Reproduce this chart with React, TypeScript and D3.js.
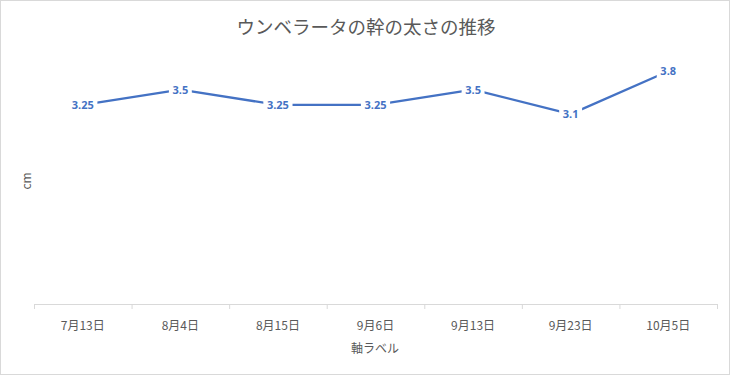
import React from "react";
import * as d3 from "d3";

const categories = ["7月13日", "8月4日", "8月15日", "9月6日", "9月13日", "9月23日", "10月5日"];
const values = [3.25, 3.5, 3.25, 3.25, 3.5, 3.1, 3.8];
const valueLabels = ["3.25", "3.5", "3.25", "3.25", "3.5", "3.1", "3.8"];
const title = "ウンベラータの幹の太さの推移";
const yTitle = "cm";
const xTitle = "軸ラベル";

const W = 732;
const H = 376;
const plot = { left: 34, right: 717, top: 59, bottom: 304 };
const JP = "'Noto Sans CJK JP', 'Noto Sans', sans-serif";
const NUM = "'Open Sans', 'Noto Sans', sans-serif";
const BLUE = "#4472C4";
const GRAY = "#595959";

export default function App() {
  const x = d3.scaleBand<string>().domain(categories).range([plot.left, plot.right]).padding(0);
  const y = d3.scaleLinear().domain([0, 4]).range([plot.bottom, plot.top]);
  const cx = (i: number) => (x(categories[i]) as number) + x.bandwidth() / 2;
  const line = d3
    .line<number>()
    .x((_, i) => cx(i))
    .y((d) => y(d));
  const ticks = [...categories.map((c) => x(c) as number), plot.right];

  return (
    <svg
      width={W}
      height={H}
      style={{ position: "fixed", left: 0, top: 0, background: "#fff" }}
    >
      <rect x={0.5} y={0.5} width={W - 3} height={H - 2} fill="#fff" stroke="#d9d9d9" />
      <text x={366} y={34} textAnchor="middle" fontFamily={JP} fontSize={18.5} fill={GRAY}>
        {title}
      </text>
      <line x1={plot.left} x2={plot.right} y1={plot.bottom + 0.5} y2={plot.bottom + 0.5} stroke="#d9d9d9" />
      {ticks.map((t, i) => (
        <line key={i} x1={t + 0.5} x2={t + 0.5} y1={plot.bottom} y2={plot.bottom + 5} stroke="#d9d9d9" />
      ))}
      {categories.map((c, i) => (
        <text key={c} x={cx(i)} y={330} textAnchor="middle" fontFamily={JP} fontSize={12} fill={GRAY}>
          {c}
        </text>
      ))}
      <text x={375} y={353} textAnchor="middle" fontFamily={JP} fontSize={12} fill={GRAY}>
        {xTitle}
      </text>
      <text
        transform={`translate(31,181) rotate(-90)`}
        textAnchor="middle"
        fontFamily={JP}
        fontSize={12}
        fill={GRAY}
      >
        {yTitle}
      </text>
      <path d={line(values) || ""} fill="none" stroke={BLUE} strokeWidth={2.25} strokeLinejoin="round" />
      {values.map((v, i) => {
        const w = valueLabels[i].length * 6.3 + 4;
        return (
          <g key={i}>
            <rect x={cx(i) - w / 2} y={y(v) - 8} width={w} height={15} fill="#fff" />
            <text
              x={cx(i)}
              y={y(v) + 4}
              textAnchor="middle"
              fontFamily={NUM}
              fontWeight={700}
              fontSize={11}
              fill={BLUE}
            >
              {valueLabels[i]}
            </text>
          </g>
        );
      })}
    </svg>
  );
}
